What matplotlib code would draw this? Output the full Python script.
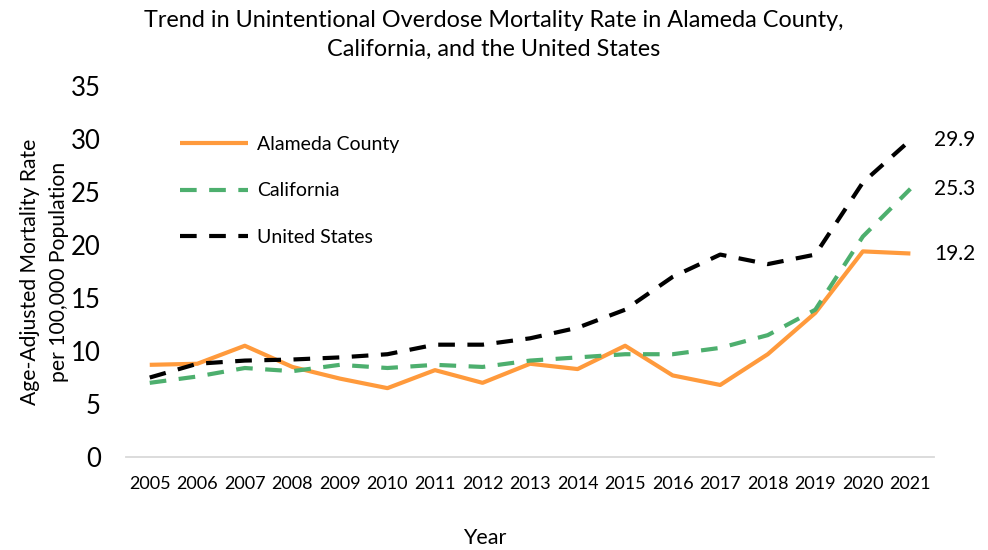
import matplotlib
matplotlib.use("Agg")
import matplotlib.pyplot as plt

plt.rcParams['font.family'] = ['Lato', 'DejaVu Sans']

years = [str(y) for y in range(2005, 2022)]
alameda = [8.7, 8.8, 10.5, 8.5, 7.4, 6.5, 8.2, 7.0, 8.8, 8.3, 10.5, 7.7, 6.8, 9.7, 13.6, 19.4, 19.2]
california = [7.0, 7.6, 8.4, 8.1, 8.7, 8.4, 8.7, 8.5, 9.1, 9.4, 9.7, 9.7, 10.3, 11.5, 13.9, 20.8, 25.3]
united_states = [7.5, 8.8, 9.1, 9.2, 9.4, 9.7, 10.6, 10.6, 11.2, 12.2, 13.9, 17.0, 19.1, 18.2, 19.1, 25.9, 29.9]
y_ticks = [0, 5, 10, 15, 20, 25, 30, 35]
end_labels = ["19.2", "25.3", "29.9"]

fig = plt.figure(figsize=(9.88, 5.5), dpi=100)
ax = fig.add_axes([0.1275, 0.169, 0.818, 0.6746])

x = list(range(len(years)))
ax.plot(x, alameda, color='#FF9A3C', lw=3, label='Alameda County', solid_capstyle='butt')
ax.plot(x, california, color='#4DAF6E', lw=3, dashes=(4, 3), label='California')
ax.plot(x, united_states, color='black', lw=3, dashes=(4, 3), label='United States')

ax.set_xlim(-0.5, len(years) - 0.5)
ax.set_ylim(0, 35)
ax.set_xticks(x)
ax.set_xticklabels(years, fontsize=13)
ax.set_yticks(y_ticks)
ax.set_yticklabels([str(v) for v in y_ticks], fontsize=18.5)
ax.tick_params(axis='both', length=0)
ax.tick_params(axis='x', pad=14)
ax.tick_params(axis='y', pad=18)

for s in ['top', 'right', 'left']:
    ax.spines[s].set_visible(False)
ax.spines['bottom'].set_color('#D9D9D9')
ax.spines['bottom'].set_linewidth(1.3)

for val, series in zip(end_labels, [alameda, california, united_states]):
    ax.annotate(val, xy=(x[-1], series[-1]), xytext=(17, 0), textcoords='offset points',
                fontsize=15, va='center', ha='left')

ax.set_xlabel('Year', fontsize=15.5)
ax.xaxis.set_label_coords(0.444, -0.19)
ax.set_ylabel('Age-Adjusted Mortality Rate\nper 100,000 Population', fontsize=15.2, linespacing=1.55)
ax.yaxis.set_label_coords(-0.071, 0.5)

fig.suptitle('Trend in Unintentional Overdose Mortality Rate in Alameda County,\nCalifornia, and the United States',
             fontsize=16.8, y=0.982, x=0.5, linespacing=1.45)

leg = ax.legend(loc='upper left', bbox_to_anchor=(0.045, 0.912), frameon=False, fontsize=14,
                handlelength=3.5, labelspacing=1.5, handletextpad=0.45)

fig.savefig('out.png', dpi=100)
